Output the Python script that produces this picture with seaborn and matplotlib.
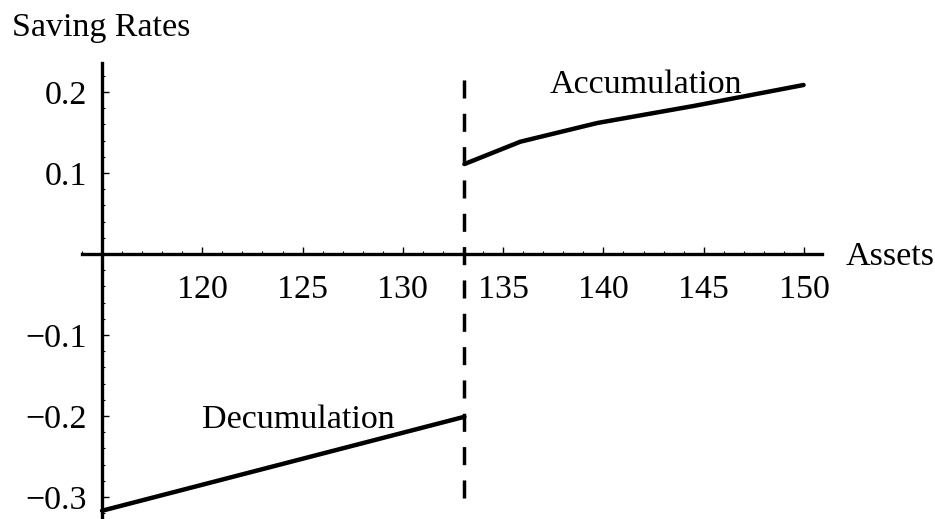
import matplotlib
matplotlib.use("Agg")
import matplotlib.pyplot as plt
import seaborn as sns
import pandas as pd
from matplotlib.ticker import MultipleLocator

# values
decum_assets = [115.0, 133.07]
decum_rates = [-0.317, -0.201]
accum_assets = [133.07, 135.86, 139.7, 144.5, 149.98]
accum_rates = [0.111, 0.1386, 0.1617, 0.1827, 0.2086]
threshold = 133.07
x_ticks = [120, 125, 130, 135, 140, 145, 150]
y_ticks = [-0.3, -0.2, -0.1, 0.1, 0.2]


def set_style():
    sns.set_theme(style="white")
    plt.rcParams['font.family'] = ['Liberation Serif', 'DejaVu Serif']
    plt.rcParams['text.color'] = 'black'
    plt.rcParams['xtick.color'] = 'black'
    plt.rcParams['ytick.color'] = 'black'
    plt.rcParams['axes.edgecolor'] = 'black'


def run_and_plot():
    set_style()
    df_dec = pd.DataFrame({"Assets": decum_assets, "Rate": decum_rates})
    df_acc = pd.DataFrame({"Assets": accum_assets, "Rate": accum_rates})

    fig = plt.figure(figsize=(9.35, 5.19), dpi=100)
    ax = fig.add_axes([82 / 935, 0.0, 740 / 935, 456.2 / 519])
    ax.set_xlim(114.0, 150.9)
    ax.set_ylim(-0.3272, 0.2360)

    sns.lineplot(data=df_dec, x="Assets", y="Rate", ax=ax, color='black', linewidth=3.2, clip_on=False)
    sns.lineplot(data=df_acc, x="Assets", y="Rate", ax=ax, color='black', linewidth=3.2, clip_on=False)
    ax.plot([threshold, threshold], [-0.301, 0.221], color='black', linewidth=2.5,
            dashes=(5.2, 4.4))

    ax.spines['top'].set_visible(False)
    ax.spines['right'].set_visible(False)
    ax.spines['left'].set_position(('data', 115))
    ax.spines['bottom'].set_position(('data', 0))
    ax.spines['left'].set_linewidth(2.4)
    ax.spines['bottom'].set_linewidth(2.4)

    ax.set_xticks(x_ticks)
    ax.set_xticklabels([str(t) for t in x_ticks])
    ax.set_yticks(y_ticks)
    ax.set_yticklabels([f"{t:.1f}".replace('-', '\u2212') for t in y_ticks])
    ax.xaxis.set_minor_locator(MultipleLocator(1))
    ax.yaxis.set_minor_locator(MultipleLocator(0.02))
    ax.tick_params(which='both', bottom=True, left=True, top=False, right=False)
    ax.tick_params(which='major', direction='in', length=5, width=1, labelsize=24.5)
    ax.tick_params(which='minor', direction='in', length=2.5, width=0.8)
    ax.tick_params(axis='x', which='major', pad=15)
    ax.tick_params(axis='y', which='major', pad=11)
    ax.set_xlabel("")
    ax.set_ylabel("")
    ax.grid(False)

    ax.text(152.07, -0.0136, "Assets", fontsize=24.5, ha='left', va='baseline', clip_on=False)
    ax.text(110.5, 0.269, "Saving Rates", fontsize=24.5, ha='left', va='baseline', clip_on=False)
    ax.text(137.3, 0.199, "Accumulation", fontsize=24.5, ha='left', va='baseline')
    ax.text(120.0, -0.215, "Decumulation", fontsize=24.5, ha='left', va='baseline')

    plt.savefig("out.png", dpi=100)


if __name__ == "__main__":
    run_and_plot()
